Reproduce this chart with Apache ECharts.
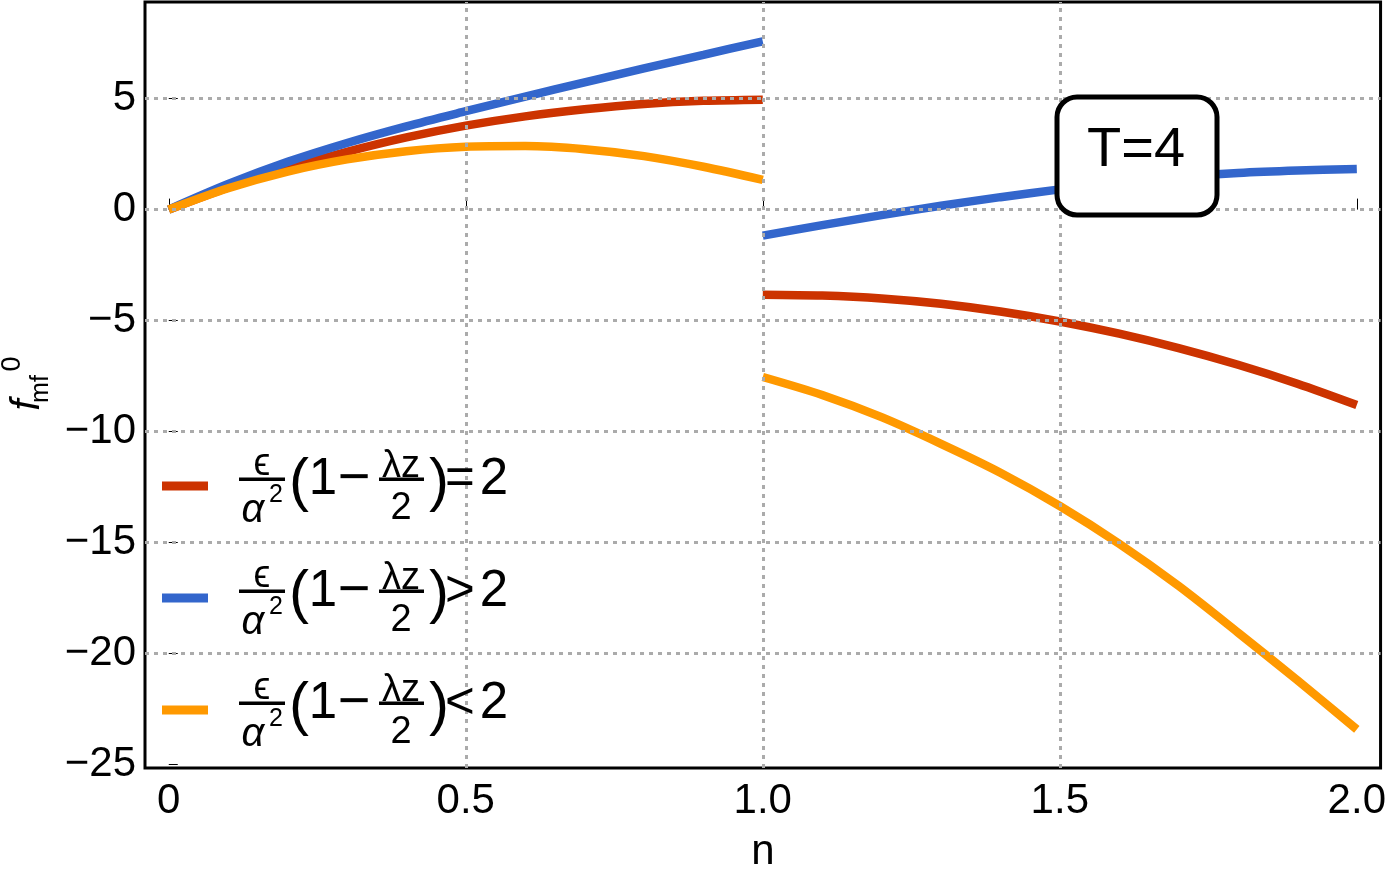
<!DOCTYPE html>
<html>
<head>
<meta charset="utf-8">
<script src="https://cdn.jsdelivr.net/npm/echarts@6/dist/echarts.min.js"></script>
<style>
  html, body { margin: 0; padding: 0; background: #fff; }
  #main { width: 1389px; height: 879px; }
</style>
</head>
<body>
<div id="main"></div>
<script>
// n values for the two branches
const nLeft = [0, 0.1, 0.2, 0.3, 0.4, 0.5, 0.6, 0.7, 0.8, 0.9, 1.0];
const nRight = [1.0, 1.1, 1.2, 1.3, 1.4, 1.5, 1.6, 1.7, 1.8, 1.9, 2.0];

// = 2 (red)
const redLeft = [0, 1.0, 1.85, 2.6, 3.25, 3.78, 4.2, 4.52, 4.76, 4.9, 4.95];
const redRight = [-3.83, -3.87, -4.0, -4.24, -4.59, -5.04, -5.59, -6.24, -6.99, -7.84, -8.8];
// > 2 (blue)
const blueLeft = [0, 1.15, 2.15, 3.0, 3.75, 4.43, 5.09, 5.73, 6.36, 6.97, 7.58];
const blueRight = [-1.17, -0.7, -0.25, 0.17, 0.56, 0.91, 1.22, 1.47, 1.65, 1.76, 1.83];
// < 2 (orange)
const orangeLeft = [0, 0.96, 1.71, 2.26, 2.63, 2.83, 2.86, 2.72, 2.41, 1.93, 1.34];
const orangeRight = [-7.54, -8.35, -9.35, -10.55, -11.85, -13.35, -15.05, -16.95, -19.05, -21.2, -23.41];

const xTicks = [0, 0.5, 1, 1.5, 2];
const xTickLabels = ['0', '0.5', '1.0', '1.5', '2.0'];
const yTicks = [-25, -20, -15, -10, -5, 0, 5];
const yTickLabels = ['\u221225', '\u221220', '\u221215', '\u221210', '\u22125', '0', '5'];
const xGridLines = [0.5, 1, 1.5];
const yGridLines = [-20, -15, -10, -5, 0, 5];

const legendRelations = ['=', '>', '<'];
const colors = { red: '#cc3300', blue: '#3366cc', orange: '#ff9900' };

const FONT = '"Liberation Sans", Arial, sans-serif';

function pairs(xs, ys) {
    return xs.map((x, i) => [x, ys[i]]);
}

function curve(name, color, xs, ys) {
    return {
        name: name,
        type: 'line',
        data: pairs(xs, ys),
        smooth: 0.3,
        showSymbol: false,
        z: 3,
        lineStyle: { color: color, width: 8.5, cap: 'butt' },
        itemStyle: { color: color }
    };
}

function txt(x, y, text, size, opts) {
    opts = opts || {};
    return {
        type: 'text', x: x, y: y, z: 100, rotation: opts.rotation || 0,
        style: {
            text: text, fontSize: size, fontFamily: FONT,
            fontStyle: opts.italic ? 'italic' : 'normal',
            fill: '#000', align: 'center', verticalAlign: 'middle'
        }
    };
}

function bar(x, y, w) {
    return { type: 'rect', z: 100, shape: { x: x, y: y, width: w, height: 3.5 }, style: { fill: '#000' } };
}

function legendRow(y0, color, rel) {
    return [
        { type: 'rect', z: 100, shape: { x: 162, y: y0 - 4.5, width: 46, height: 9 }, style: { fill: color } },
        txt(262, y0 - 21, '\u03f5', 38),
        bar(239, y0 - 8.5, 46),
        txt(253, y0 + 25, '\u03b1', 40, { italic: true }),
        txt(276, y0 + 9, '2', 25),
        txt(299, y0 - 3, '(', 60),
        txt(323, y0 - 6, '1', 51),
        txt(354, y0 - 6, '\u2212', 56),
        txt(401, y0 - 19, '\u03bbz', 38),
        bar(379, y0 - 8.5, 45),
        txt(401, y0 + 23, '2', 38),
        txt(439, y0 - 3, ')', 60),
        txt(460, y0 - 6, rel, 51),
        txt(494, y0 - 6, '2', 51)
    ];
}

const legendY = [486, 598, 710];
const legendColors = [colors.red, colors.blue, colors.orange];
let graphics = [];
legendY.forEach((y, i) => {
    graphics = graphics.concat(legendRow(y, legendColors[i], legendRelations[i]));
});

// T=4 box
graphics.push({
    type: 'rect', z: 100,
    shape: { x: 1057, y: 97, width: 160, height: 118, r: 20 },
    style: { fill: '#fff', stroke: '#000', lineWidth: 5 }
});
graphics.push(txt(1136, 151, 'T=4', 56));

// axis names
graphics.push(txt(763, 852, 'n', 42));
graphics.push(txt(28, 405, 'f', 40, { italic: true, rotation: Math.PI / 2 }));
graphics.push(txt(41, 389, 'mf', 25, { rotation: Math.PI / 2 }));
graphics.push(txt(13, 364, '0', 27, { rotation: Math.PI / 2 }));

let myChart = echarts.init(document.getElementById('main'));
let option = {
    animation: false,
    backgroundColor: '#fff',
    grid: {
        left: 145, right: 5, top: 2, bottom: 111,
        show: true, borderColor: '#000', borderWidth: 3, backgroundColor: 'transparent'
    },
    xAxis: {
        type: 'value', min: -0.04, max: 2.04,
        axisLine: { show: false },
        splitLine: { show: false },
        axisTick: { show: true, customValues: xTicks, inside: true, length: 11, lineStyle: { color: '#000', width: 1 } },
        axisLabel: {
            customValues: xTicks, margin: 12, fontSize: 42, fontFamily: FONT, color: '#000',
            formatter: v => xTickLabels[xTicks.indexOf(v)]
        }
    },
    yAxis: {
        type: 'value', min: -25.15, max: 9.35,
        axisLine: { show: false },
        splitLine: { show: false },
        axisTick: { show: true, customValues: yTicks, inside: true, length: 9, lineStyle: { color: '#000', width: 1 } },
        axisLabel: {
            customValues: yTicks, margin: 9, fontSize: 42, fontFamily: FONT, color: '#000',
            formatter: v => yTickLabels[yTicks.indexOf(v)]
        }
    },
    series: [
        {
            name: 'grid', type: 'line', data: [], z: 1, silent: true,
            markLine: {
                silent: true, symbol: 'none', animation: false,
                label: { show: false },
                lineStyle: { color: '#ababab', width: 3, type: [4, 5] },
                data: xGridLines.map(v => ({ xAxis: v })).concat(yGridLines.map(v => ({ yAxis: v })))
            }
        },
        curve('=2', colors.red, nLeft, redLeft),
        curve('=2', colors.red, nRight, redRight),
        curve('>2', colors.blue, nLeft, blueLeft),
        curve('>2', colors.blue, nRight, blueRight),
        curve('<2', colors.orange, nLeft, orangeLeft),
        curve('<2', colors.orange, nRight, orangeRight)
    ],
    graphic: graphics
};
myChart.setOption(option);
</script>
</body>
</html>
